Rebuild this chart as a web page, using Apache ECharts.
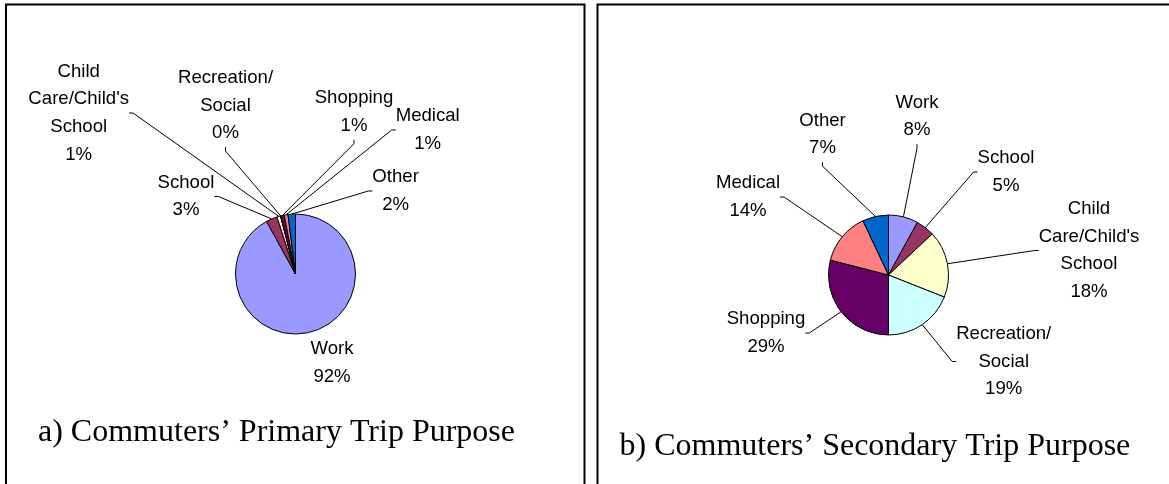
<!DOCTYPE html>
<html>
<head>
<meta charset="utf-8">
<script src="https://cdn.jsdelivr.net/npm/echarts@6/dist/echarts.min.js"></script>
<style>
  html, body { margin: 0; padding: 0; background: #fff; }
  #chart { width: 1169px; height: 484px; }
</style>
</head>
<body>
<div id="chart"></div>
<script>
// Trip purposes, in the order the slices run clockwise from 12 o'clock
const purposes = ['Work', 'School', 'Child\nCare/Child\'s\nSchool', 'Recreation/\nSocial', 'Shopping', 'Medical', 'Other'];
// Share of commuters (%) by purpose
const primaryShare = [92, 3, 1, 0, 1, 1, 2];
const secondaryShare = [8, 5, 18, 19, 29, 14, 7];
const panelTitles = ['a) Commuters\u2019 Primary Trip Purpose', 'b) Commuters\u2019 Secondary Trip Purpose'];

// Slice fills, one per purpose
const purposeColors = ['#9999FF', '#993366', '#FFFFCC', '#CCFFFF', '#660066', '#FF8080', '#0066CC'];

// Where each label block sits, relative to its pie's centre (px)
const primaryLabelOffsets = [[36.5, 89], [-109.5, -77.5], [-216.8, -161], [-70, -168.5], [58.5, -162], [132.2, -144], [100.1, -83]];
const secondaryLabelOffsets = [[28.5, -158.5], [117.5, -103], [200.5, -24.5], [115.2, 86.5], [-122.5, 58], [-140.5, -78], [-66, -140.5]];
// Labels that sit right against their slice get no leader line
const primaryLeaders = [false, true, true, true, true, true, true];
const secondaryLeaders = [true, true, true, true, true, true, true];

const pies = [
  { center: [295.5, 274], share: primaryShare, offsets: primaryLabelOffsets, leaders: primaryLeaders },
  { center: [888.5, 275], share: secondaryShare, offsets: secondaryLabelOffsets, leaders: secondaryLeaders }
];

const chart = echarts.init(document.getElementById('chart'), null, { renderer: 'canvas' });

const series = pies.map(function (pie) {
  return {
    type: 'pie',
    center: pie.center,
    radius: 60,
    startAngle: 90,
    clockwise: true,
    avoidLabelOverlap: false,
    animation: false,
    silent: true,
    data: purposes.map(function (name, i) {
      return {
        name: name,
        value: pie.share[i],
        itemStyle: { color: purposeColors[i] },
        labelLine: { show: pie.leaders[i] }
      };
    }),
    itemStyle: { borderColor: '#000', borderWidth: 1 },
    label: {
      show: true,
      position: 'outside',
      formatter: '{b}\n{c}%',
      color: '#000',
      fontFamily: '"Liberation Sans", Arial, sans-serif',
      fontSize: 18.6,
      lineHeight: 27.7,
      align: 'center'
    },
    labelLine: {
      show: true,
      length: 10,
      length2: 4,
      smooth: false,
      lineStyle: { color: '#000', width: 1 }
    },
    labelLayout: function (p) {
      const o = pie.offsets[p.dataIndex];
      return {
        x: pie.center[0] + o[0],
        y: pie.center[1] + o[1],
        align: 'center',
        verticalAlign: 'middle'
      };
    },
    emphasis: { disabled: true }
  };
});

chart.setOption({
  backgroundColor: '#fff',
  animation: false,
  series: series,
  graphic: [
    {
      type: 'rect', silent: true, z: 0,
      shape: { x: 6, y: 4.5, width: 578.5, height: 520 },
      style: { fill: 'none', stroke: '#000', lineWidth: 2 }
    },
    {
      type: 'rect', silent: true, z: 0,
      shape: { x: 597.5, y: 4.5, width: 620, height: 520 },
      style: { fill: 'none', stroke: '#000', lineWidth: 2 }
    },
    {
      type: 'text', silent: true, z: 10,
      x: 38, y: 433,
      style: {
        text: panelTitles[0],
        font: '32px "Liberation Serif", "Times New Roman", serif',
        fill: '#000',
        textAlign: 'left',
        textVerticalAlign: 'middle'
      }
    },
    {
      type: 'text', silent: true, z: 10,
      x: 619.5, y: 447,
      style: {
        text: panelTitles[1],
        font: '32px "Liberation Serif", "Times New Roman", serif',
        fill: '#000',
        textAlign: 'left',
        textVerticalAlign: 'middle'
      }
    }
  ]
});
</script>
</body>
</html>
